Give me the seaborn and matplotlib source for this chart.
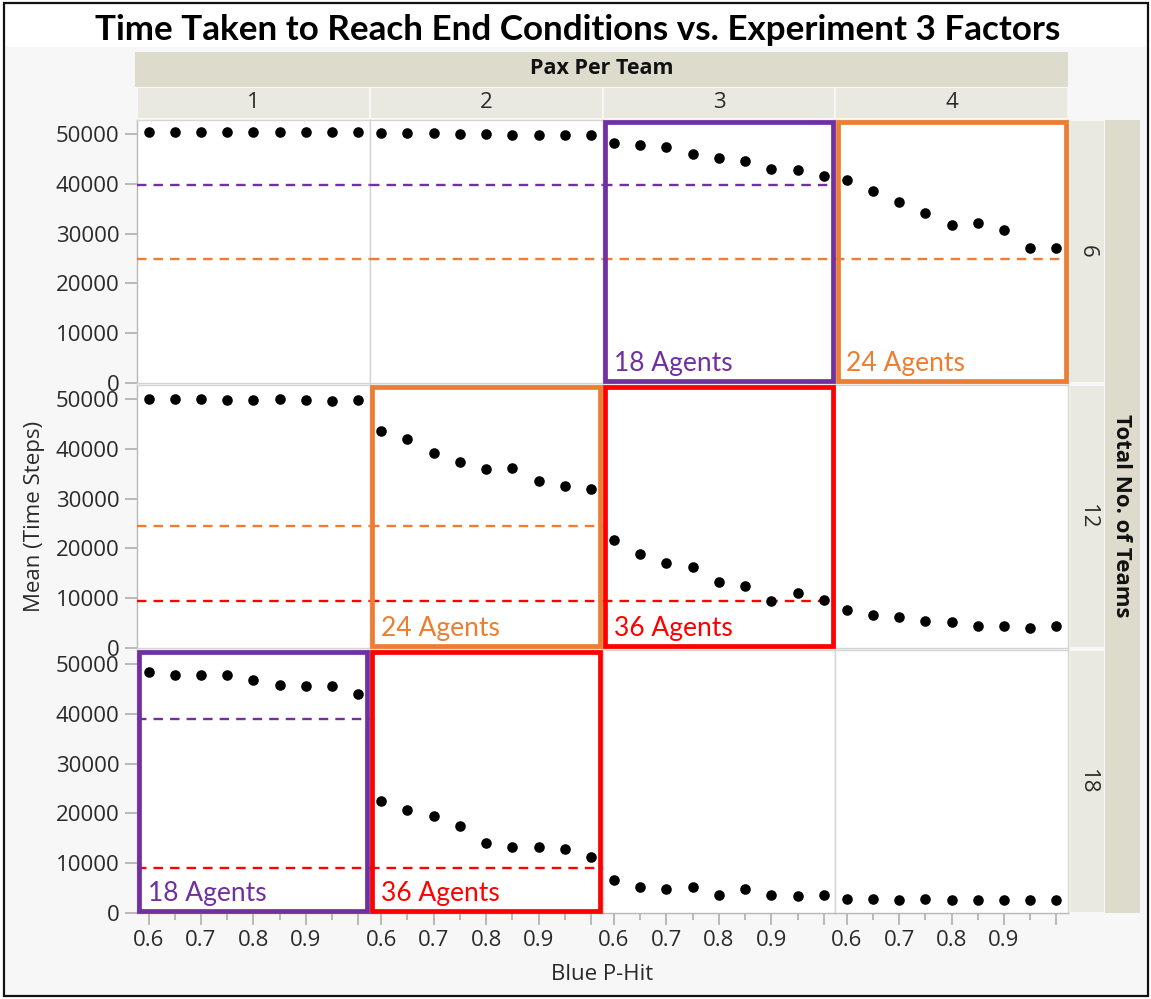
import matplotlib
matplotlib.use("Agg")
import matplotlib.pyplot as plt
from matplotlib.patches import Rectangle
from matplotlib.ticker import FuncFormatter
import numpy as np
import pandas as pd
import seaborn as sns

# ---------------------------------------------------------------- data
p_hit = [0.60, 0.65, 0.70, 0.75, 0.80, 0.85, 0.90, 0.95, 1.00]
pax_per_team = [1, 2, 3, 4]
total_teams = [6, 12, 18]

# mean time steps to reach the end condition, one list per (teams, pax) cell
teams6_pax1 = [50300, 50300, 50300, 50300, 50300, 50300, 50300, 50300, 50300]
teams6_pax2 = [50100, 50100, 50100, 49950, 49950, 49800, 49800, 49800, 49700]
teams6_pax3 = [48200, 47700, 47350, 45900, 45150, 44550, 42950, 42750, 41650]
teams6_pax4 = [40700, 38450, 36250, 34050, 31650, 32150, 30750, 27100, 27100]
teams12_pax1 = [50000, 50000, 50000, 49800, 49800, 50050, 49800, 49600, 49700]
teams12_pax2 = [43600, 42000, 39200, 37400, 36000, 36200, 33600, 32600, 32000]
teams12_pax3 = [21600, 18900, 17000, 16200, 13250, 12500, 9350, 10950, 9650]
teams12_pax4 = [7550, 6600, 6150, 5350, 5150, 4450, 4450, 3950, 4350]
teams18_pax1 = [48350, 47850, 47850, 47850, 46750, 45750, 45550, 45600, 44000]
teams18_pax2 = [22400, 20650, 19450, 17450, 14000, 13300, 13300, 12750, 11300]
teams18_pax3 = [6550, 5200, 4900, 5200, 3650, 4850, 3600, 3500, 3600]
teams18_pax4 = [2900, 2900, 2600, 2800, 2650, 2650, 2600, 2600, 2600]

cells = {
    (6, 1): teams6_pax1, (6, 2): teams6_pax2, (6, 3): teams6_pax3, (6, 4): teams6_pax4,
    (12, 1): teams12_pax1, (12, 2): teams12_pax2, (12, 3): teams12_pax3, (12, 4): teams12_pax4,
    (18, 1): teams18_pax1, (18, 2): teams18_pax2, (18, 3): teams18_pax3, (18, 4): teams18_pax4,
}

# reference levels for equal total agent counts (teams x pax)
ref_teams = [6, 6, 12, 12, 18, 18]
ref_agents = [18, 24, 24, 36, 18, 36]
ref_level = [39800, 24900, 24400, 9500, 39000, 9000]

y_ticks = [0, 10000, 20000, 30000, 40000, 50000]
x_major = [0.6, 0.7, 0.8, 0.9, 1.0]
x_major_labels = ["0.6", "0.7", "0.8", "0.9", ""]
x_minor = [0.65, 0.75, 0.85, 0.95]

rows = []
for (teams, pax), values in cells.items():
    for x, v in zip(p_hit, values):
        rows.append({"teams": teams, "pax": pax, "p_hit": x, "mean": v})
df = pd.DataFrame(rows)

# ---------------------------------------------------------------- style
sns.set_theme(style="white")
plt.rcParams["font.family"] = ["Open Sans", "DejaVu Sans"]

agent_colors = {18: "#7030A0", 24: "#ED7D31", 36: "#FF0000"}
strip_dark = "#dcdbcc"
strip_light = "#e9e9e1"
spine_col = "#d4d4d4"
tick_col = "#a8a8a8"
text_col = "#2a2a2a"

W, H = 1151, 999


def fx(px):
    return px / W


def fy(py):
    return 1 - py / H


g = sns.FacetGrid(df, row="teams", col="pax", row_order=total_teams,
                  col_order=pax_per_team, sharex=True, sharey=True,
                  despine=False, height=3, aspect=1)
g.map_dataframe(sns.scatterplot, x="p_hit", y="mean", color="black",
                s=58, linewidth=0, zorder=5)
g.set_titles(template="")
g.set_axis_labels("", "")

fig = g.figure
fig.set_size_inches(W / 100, H / 100)
fig.set_dpi(100)
fig.patch.set_facecolor("white")
fig.subplots_adjust(left=fx(137), right=fx(1068), top=fy(120), bottom=fy(913),
                    wspace=0.0, hspace=0.0076)

for i, teams in enumerate(total_teams):
    for j, pax in enumerate(pax_per_team):
        ax = g.axes[i, j]
        ax.set_facecolor("white")
        ax.set_xlim(0.578, 1.022)
        ax.set_ylim(0, 52800)
        ax.set_yticks(y_ticks)
        ax.yaxis.set_major_formatter(FuncFormatter(lambda v, _: f"{int(v)}"))
        ax.set_xticks(x_major)
        ax.set_xticklabels(x_major_labels)
        ax.set_xticks(x_minor, minor=True)
        for s in ax.spines.values():
            s.set_color(spine_col)
            s.set_linewidth(1.0)
        ax.tick_params(axis="both", which="major", direction="out", length=8.5,
                       width=1.1, color=tick_col, labelsize=16,
                       labelcolor=text_col, pad=4, left=True, bottom=True)
        ax.tick_params(axis="x", which="minor", direction="out", length=5,
                       width=1.1, color=tick_col, bottom=True)
        if j > 0:
            ax.tick_params(axis="y", left=False, labelleft=False)
        else:
            ax.spines["left"].set_color("#b8b8b8")
        if i < len(total_teams) - 1:
            ax.tick_params(axis="x", which="both", bottom=False, labelbottom=False)
        else:
            ax.spines["bottom"].set_color("#b8b8b8")
        ax.set_xlabel("")
        ax.set_ylabel("")

        # dashed reference levels reaching across to the matching agent count
        for t, a, lvl in zip(ref_teams, ref_agents, ref_level):
            if t == teams and pax <= a // t:
                ax.axhline(lvl, color=agent_colors[a], lw=1.7,
                           dashes=(4.0, 3.0), zorder=3)

fig.canvas.draw()

# ---------------------------------------------------------------- frame & strips
fig.add_artist(Rectangle((fx(6), fy(995)), fx(1146) - fx(6), (995 - 47) / H,
                         transform=fig.transFigure, facecolor="#f7f7f7",
                         edgecolor="none", zorder=-5))
fig.add_artist(Rectangle((fx(4), fy(996)), fx(1148) - fx(4), (996 - 3) / H,
                         transform=fig.transFigure, facecolor="none",
                         edgecolor="#111111", lw=1.6, zorder=20))

fig.add_artist(Rectangle((fx(135), fy(87)), fx(1068) - fx(135), 35 / H,
                         transform=fig.transFigure, facecolor=strip_dark,
                         edgecolor="none", zorder=1))
fig.text(fx(602), fy(69), "Pax Per Team", ha="center", va="center",
         fontsize=15.5, fontweight="bold", color="#111111")

for j, pax in enumerate(pax_per_team):
    pos = g.axes[0, j].get_position()
    fig.add_artist(Rectangle((pos.x0 + fx(1), fy(118)), pos.width - fx(2), 30 / H,
                             transform=fig.transFigure, facecolor=strip_light,
                             edgecolor="none", zorder=1))
    fig.text(pos.x0 + pos.width / 2, fy(103), str(pax), ha="center",
             va="center", fontsize=16, color=text_col)

for i, teams in enumerate(total_teams):
    pos = g.axes[i, -1].get_position()
    fig.add_artist(Rectangle((fx(1070), pos.y0 + 1 / H), fx(1104) - fx(1070),
                             pos.height - 2 / H, transform=fig.transFigure,
                             facecolor=strip_light, edgecolor="none", zorder=1))
    fig.text(fx(1087), pos.y0 + pos.height / 2, str(teams), ha="center",
             va="center", rotation=270, fontsize=16, color=text_col)

fig.add_artist(Rectangle((fx(1105), fy(913)), fx(1140) - fx(1105), (913 - 120) / H,
                         transform=fig.transFigure, facecolor=strip_dark,
                         edgecolor="none", zorder=1))
fig.text(fx(1122), fy(516), "Total No. of Teams", ha="center", va="center",
         rotation=270, fontsize=16, fontweight="bold", color="#111111")

# ---------------------------------------------------------------- highlight boxes
for t, a in zip(ref_teams, ref_agents):
    i = total_teams.index(t)
    j = pax_per_team.index(a // t)
    pos = g.axes[i, j].get_position()
    inset = 2.3
    x0 = pos.x0 + fx(inset)
    y0 = pos.y0 + inset / H
    fig.add_artist(Rectangle((x0, y0), pos.width - 2 * fx(inset),
                             pos.height - 2 * inset / H,
                             transform=fig.transFigure, facecolor="none",
                             edgecolor=agent_colors[a], lw=3.4, zorder=10))
    fig.text(pos.x0 + fx(11), pos.y0 + 12 / H, f"{a} Agents", ha="left",
             va="baseline", fontsize=19, color=agent_colors[a],
             family=["Lato", "DejaVu Sans"], zorder=11)

# ---------------------------------------------------------------- titles
fig.text(fx(578), fy(30), "Time Taken to Reach End Conditions vs. Experiment 3 Factors",
         ha="center", va="center", fontsize=25.2, fontweight="bold",
         color="black", family=["Lato", "DejaVu Sans"])
fig.text(fx(35), fy(516), "Mean (Time Steps)", ha="center", va="center",
         rotation=90, fontsize=16, color=text_col)
fig.text(fx(602), fy(975), "Blue P-Hit", ha="center", va="center",
         fontsize=16, color=text_col)

fig.savefig("out.png", dpi=100, facecolor=fig.get_facecolor())
